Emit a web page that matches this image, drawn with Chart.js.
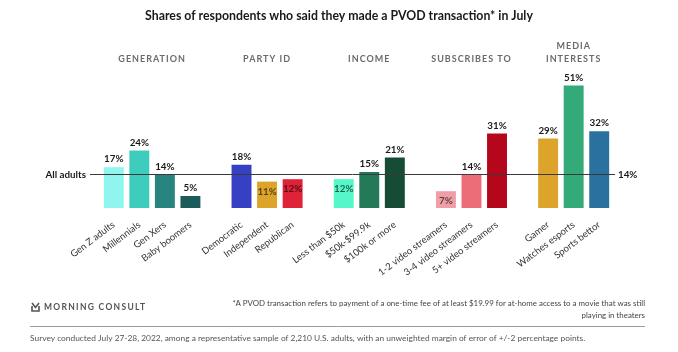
<!DOCTYPE html>
<html>
<head>
<meta charset="utf-8">
<script src="https://cdn.jsdelivr.net/npm/chart.js@4/dist/chart.umd.min.js"></script>
<style>
html,body{margin:0;padding:0;background:#fff;}
#wrap{width:678px;height:352px;position:relative;}
</style>
</head>
<body>
<div id="wrap"><canvas id="c" width="678" height="352"></canvas></div>
<script>
// ---- data ----
const groupNames = [["GENERATION"], ["PARTY ID"], ["INCOME"], ["SUBSCRIBES TO"], ["MEDIA", "INTERESTS"]];
const generationLabels = ["Gen Z adults", "Millennials", "Gen Xers", "Baby boomers"];
const generationValues = [17, 24, 14, 5];
const partyLabels = ["Democratic", "Independent", "Republican"];
const partyValues = [18, 11, 12];
const incomeLabels = ["Less than $50k", "$50k-$99.9k", "$100k or more"];
const incomeValues = [12, 15, 21];
const subscribeLabels = ["1-2 video streamers", "3-4 video streamers", "5+ video streamers"];
const subscribeValues = [7, 14, 31];
const mediaLabels = ["Gamer", "Watches esports", "Sports bettor"];
const mediaValues = [29, 51, 32];
const allAdults = 14;

const generationColors = ["#8ef6ef", "#3ecdbd", "#28847f", "#1b5b59"];
const partyColors = ["#3540c2", "#dca42b", "#df2237"];
const incomeColors = ["#55f7c9", "#247a58", "#164c35"];
const subscribeColors = ["#ef9ea5", "#ec6d77", "#b5071c"];
const mediaColors = ["#dca42b", "#35aa79", "#2a71a0"];

const groupLabelSets = [generationLabels, partyLabels, incomeLabels, subscribeLabels, mediaLabels];
const groupValueSets = [generationValues, partyValues, incomeValues, subscribeValues, mediaValues];
const groupColorSets = [generationColors, partyColors, incomeColors, subscribeColors, mediaColors];

// build category axis with one empty slot between groups
const labels = [], values = [], colors = [], groupRanges = [];
groupLabelSets.forEach((ls, g) => {
  if (g > 0) { labels.push(""); values.push(null); colors.push("rgba(0,0,0,0)"); }
  const start = labels.length;
  ls.forEach((l, i) => { labels.push(l); values.push(groupValueSets[g][i]); colors.push(groupColorSets[g][i]); });
  groupRanges.push([start, labels.length - 1]);
});

const FONT = "Lato, 'Open Sans', Roboto, sans-serif";

const overlay = {
  id: "overlay",
  afterDatasetsDraw(chart) {
    const ctx = chart.ctx;
    const x = chart.scales.x, y = chart.scales.y;
    const meta = chart.getDatasetMeta(0);
    const yAvg = y.getPixelForValue(allAdults);

    // reference line
    ctx.save();
    ctx.strokeStyle = "#3a3a3a";
    ctx.lineWidth = 1;
    ctx.beginPath();
    ctx.moveTo(90, Math.round(yAvg) + 0.5);
    ctx.lineTo(615, Math.round(yAvg) + 0.5);
    ctx.stroke();

    ctx.fillStyle = "#1a1a1a";
    ctx.font = "bold 9.8px " + FONT;
    ctx.textBaseline = "middle";
    ctx.textAlign = "right";
    ctx.fillText("All adults", 86, yAvg);
    ctx.textAlign = "left";
    ctx.fillText(allAdults + "%", 618, yAvg);

    // value labels
    ctx.textAlign = "center";
    meta.data.forEach((bar, i) => {
      const v = values[i];
      if (v === null) return;
      const inside = v < allAdults && allAdults - v < 8;
      if (inside) {
        ctx.fillStyle = "rgba(0,0,0,0.62)";
        ctx.textBaseline = "top";
        ctx.fillText(v + "%", bar.x, bar.y + 5);
      } else {
        ctx.fillStyle = "#1a1a1a";
        ctx.textBaseline = "bottom";
        ctx.fillText(v + "%", bar.x, bar.y - 3);
      }
    });

    // group headers
    ctx.fillStyle = "#6b6b6b";
    ctx.font = "bold 9px " + FONT;
    ctx.letterSpacing = "1px";
    ctx.textBaseline = "middle";
    ctx.textAlign = "center";
    groupRanges.forEach((r, g) => {
      const cx = (x.getPixelForValue(r[0]) + x.getPixelForValue(r[1])) / 2;
      const lines = groupNames[g];
      lines.forEach((t, k) => {
        ctx.fillText(t, cx, 59 - (lines.length - 1 - k) * 12.5);
      });
    });
    ctx.letterSpacing = "0px";

    // title
    ctx.fillStyle = "#1a1a1a";
    ctx.font = "bold 12.3px " + FONT;
    ctx.textAlign = "center";
    ctx.fillText("Shares of respondents who said they made a PVOD transaction* in July", 339, 16);

    // footer logo
    ctx.strokeStyle = "#555";
    ctx.lineWidth = 1.6;
    ctx.beginPath();
    ctx.moveTo(32, 303); ctx.lineTo(35.5, 307.5); ctx.lineTo(39, 303);
    ctx.stroke();
    ctx.beginPath();
    ctx.moveTo(32, 306); ctx.lineTo(32, 311); ctx.lineTo(39, 311); ctx.lineTo(39, 306);
    ctx.stroke();
    ctx.fillStyle = "#555";
    ctx.font = "bold 8.5px " + FONT;
    ctx.letterSpacing = "1.3px";
    ctx.textAlign = "left";
    ctx.fillText("MORNING CONSULT", 44, 307.5);
    ctx.letterSpacing = "0px";

    // footnote
    ctx.fillStyle = "#444";
    ctx.font = "7.9px " + FONT;
    ctx.textAlign = "right";
    ctx.fillText("*A PVOD transaction refers to payment of a one-time fee of at least $19.99 for at-home access to a movie that was still", 645, 303);
    ctx.fillText("playing in theaters", 645, 315);

    // separator
    ctx.strokeStyle = "#9a9a9a";
    ctx.lineWidth = 1;
    ctx.beginPath();
    ctx.moveTo(30, 326.5); ctx.lineTo(645, 326.5);
    ctx.stroke();

    ctx.fillStyle = "#555";
    ctx.font = "8.4px " + FONT;
    ctx.textAlign = "left";
    ctx.fillText("Survey conducted July 27-28, 2022, among a representative sample of 2,210 U.S. adults, with an unweighted margin of error of +/-2 percentage points.", 30, 338);
    ctx.restore();
  }
};

new Chart(document.getElementById("c"), {
  type: "bar",
  data: {
    labels: labels,
    datasets: [{
      data: values,
      backgroundColor: colors,
      borderWidth: 0,
      barPercentage: 0.78,
      categoryPercentage: 1.0
    }]
  },
  options: {
    responsive: false,
    animation: false,
    events: [],
    layout: { padding: { left: 101, right: 66, top: 76, bottom: 0 } },
    plugins: { legend: { display: false }, tooltip: { enabled: false } },
    scales: {
      x: {
        grid: { display: false },
        border: { display: false },
        ticks: {
          autoSkip: false,
          minRotation: 37,
          maxRotation: 37,
          padding: 3,
          color: "#333",
          font: { family: FONT, size: 9.5 }
        },
        afterFit(axis) { axis.height = 144; }
      },
      y: { display: false, min: 0, max: 55 }
    }
  },
  plugins: [overlay]
});
</script>
</body>
</html>
